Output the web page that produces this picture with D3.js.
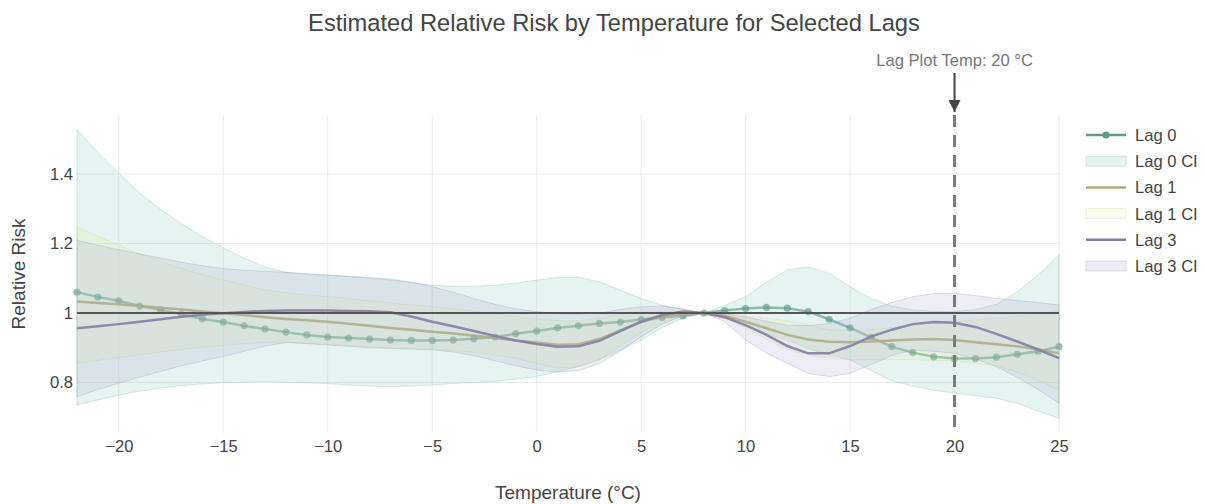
<!DOCTYPE html>
<html>
<head>
<meta charset="utf-8">
<script src="https://cdn.jsdelivr.net/npm/d3@7"></script>
<style>
  body { margin: 0; background: #fff; font-family: "Liberation Sans", Arial, sans-serif; }
  .axis text { fill: #444; font-size: 16.6px; }
</style>
</head>
<body>
<div id="vis-container"></div>
<script>
// temperatures (°C)
var temps = [-22, -21, -20, -19, -18, -17, -16, -15, -14, -13, -12, -11, -10, -9, -8, -7, -6, -5, -4, -3, -2, -1,
  0, 1, 2, 3, 4, 5, 6, 7, 8, 9, 10, 11, 12, 13, 14, 15, 16, 17, 18, 19, 20, 21, 22, 23, 24, 25];

var lag0 = [1.060, 1.046, 1.035, 1.020, 1.009, 0.997, 0.983, 0.974, 0.963, 0.954, 0.945, 0.937, 0.931, 0.928, 0.925, 0.922,
  0.921, 0.921, 0.922, 0.926, 0.931, 0.940, 0.948, 0.957, 0.963, 0.970, 0.974, 0.981, 0.987, 0.992, 1.000, 1.007,
  1.013, 1.016, 1.014, 1.004, 0.982, 0.957, 0.930, 0.903, 0.886, 0.874, 0.869, 0.869, 0.873, 0.881, 0.890, 0.903];
var lag0Lo = [0.735, 0.750, 0.764, 0.775, 0.784, 0.791, 0.796, 0.799, 0.801, 0.802, 0.801, 0.799, 0.797, 0.793, 0.790, 0.788,
  0.790, 0.793, 0.797, 0.800, 0.803, 0.810, 0.817, 0.831, 0.846, 0.866, 0.893, 0.922, 0.958, 0.985, 1.000, 0.985,
  0.961, 0.940, 0.922, 0.898, 0.880, 0.865, 0.835, 0.805, 0.790, 0.778, 0.769, 0.762, 0.755, 0.740, 0.718, 0.697];
var lag0Hi = [1.527, 1.462, 1.402, 1.345, 1.298, 1.257, 1.220, 1.187, 1.158, 1.133, 1.117, 1.111, 1.109, 1.105, 1.100, 1.095,
  1.088, 1.080, 1.077, 1.077, 1.080, 1.086, 1.095, 1.102, 1.103, 1.090, 1.066, 1.042, 1.022, 1.010, 1.000, 1.022,
  1.047, 1.088, 1.124, 1.133, 1.114, 1.076, 1.042, 1.020, 1.009, 1.005, 1.004, 1.010, 1.025, 1.060, 1.110, 1.167];

var lag1 = [1.033, 1.029, 1.025, 1.020, 1.015, 1.010, 1.004, 0.999, 0.994, 0.988, 0.983, 0.979, 0.975, 0.969, 0.963, 0.957,
  0.952, 0.946, 0.941, 0.935, 0.928, 0.921, 0.915, 0.909, 0.910, 0.925, 0.950, 0.974, 0.990, 0.998, 1.000, 0.992,
  0.975, 0.956, 0.937, 0.924, 0.917, 0.916, 0.918, 0.921, 0.924, 0.925, 0.922, 0.916, 0.910, 0.904, 0.895, 0.884];
var lag1Lo = [0.856, 0.864, 0.872, 0.880, 0.888, 0.895, 0.902, 0.907, 0.912, 0.915, 0.916, 0.913, 0.910, 0.906, 0.903, 0.900,
  0.898, 0.896, 0.892, 0.887, 0.880, 0.870, 0.855, 0.842, 0.845, 0.865, 0.905, 0.945, 0.975, 0.992, 1.000, 0.985,
  0.958, 0.925, 0.895, 0.880, 0.870, 0.866, 0.866, 0.866, 0.866, 0.864, 0.862, 0.856, 0.848, 0.830, 0.806, 0.778];
var lag1Hi = [1.247, 1.220, 1.195, 1.170, 1.148, 1.128, 1.110, 1.095, 1.080, 1.066, 1.058, 1.052, 1.047, 1.041, 1.035, 1.029,
  1.023, 1.018, 1.012, 1.005, 0.998, 0.990, 0.982, 0.978, 0.978, 0.985, 0.995, 1.003, 1.006, 1.004, 1.000, 0.998,
  0.992, 0.985, 0.978, 0.965, 0.952, 0.950, 0.952, 0.958, 0.965, 0.972, 0.976, 0.980, 0.985, 0.990, 0.998, 1.008];

var lag3 = [0.956, 0.962, 0.968, 0.975, 0.982, 0.989, 0.995, 0.999, 1.003, 1.006, 1.007, 1.007, 1.007, 1.006, 1.005, 1.002,
  0.990, 0.975, 0.962, 0.948, 0.934, 0.921, 0.911, 0.903, 0.904, 0.920, 0.948, 0.975, 0.994, 1.004, 1.000, 0.988,
  0.965, 0.937, 0.905, 0.884, 0.884, 0.905, 0.932, 0.952, 0.968, 0.974, 0.972, 0.960, 0.940, 0.918, 0.895, 0.870];
var lag3Lo = [0.759, 0.780, 0.798, 0.815, 0.832, 0.848, 0.862, 0.875, 0.890, 0.905, 0.915, 0.912, 0.908, 0.904, 0.900, 0.898,
  0.896, 0.894, 0.888, 0.877, 0.863, 0.848, 0.836, 0.830, 0.834, 0.855, 0.890, 0.932, 0.968, 0.992, 1.000, 0.975,
  0.922, 0.885, 0.855, 0.826, 0.817, 0.826, 0.852, 0.878, 0.893, 0.890, 0.884, 0.868, 0.846, 0.815, 0.780, 0.740];
var lag3Hi = [1.210, 1.195, 1.182, 1.170, 1.158, 1.146, 1.136, 1.128, 1.123, 1.120, 1.117, 1.113, 1.109, 1.106, 1.102, 1.098,
  1.088, 1.076, 1.060, 1.042, 1.025, 1.012, 1.004, 0.998, 0.997, 1.000, 1.010, 1.018, 1.020, 1.012, 1.000, 0.998,
  0.989, 0.976, 0.965, 0.964, 0.970, 0.985, 1.010, 1.030, 1.047, 1.056, 1.057, 1.050, 1.042, 1.036, 1.030, 1.023];

var xTicks = [-20, -15, -10, -5, 0, 5, 10, 15, 20, 25];
var yTicks = [0.8, 1, 1.2, 1.4];
var lagTemp = 20;

var margin = { top: 115, right: 146, bottom: 71, left: 77 },
    width  = 1205 - margin.left - margin.right,
    height = 504 - margin.top - margin.bottom;

var xScale = d3.scaleLinear().domain([-22, 25]).range([0, width]);
var yScale = d3.scaleLinear().domain([0.6547, 1.5698]).range([height, 0]);

var svg = d3.select("#vis-container")
  .append("svg")
    .attr("width", 1205)
    .attr("height", 504);

var canvas = svg.append("g")
  .attr("transform", "translate(" + margin.left + "," + margin.top + ")");

// grid
canvas.append("g").selectAll("line")
  .data(xTicks).enter().append("line")
  .attr("x1", function(d) { return xScale(d); })
  .attr("x2", function(d) { return xScale(d); })
  .attr("y1", 0).attr("y2", height)
  .style("stroke", "#ebebeb").style("stroke-width", 1);

canvas.append("g").selectAll("line")
  .data(yTicks).enter().append("line")
  .attr("x1", 0).attr("x2", width)
  .attr("y1", function(d) { return yScale(d); })
  .attr("y2", function(d) { return yScale(d); })
  .style("stroke", "#ebebeb").style("stroke-width", 1);

// axes
var xAxis = d3.axisBottom(xScale)
  .tickValues(xTicks)
  .tickSize(0)
  .tickPadding(7)
  .tickFormat(function(d) { return d < 0 ? "\u2212" + Math.abs(d) : d; });

canvas.append("g")
  .attr("class", "x axis")
  .attr("transform", "translate(0," + height + ")")
  .call(xAxis)
  .call(function(g) { g.select(".domain").remove(); });

var yAxis = d3.axisLeft(yScale)
  .tickValues(yTicks)
  .tickSize(0)
  .tickPadding(4)
  .tickFormat(function(d) { return String(d); });

canvas.append("g")
  .attr("class", "y axis")
  .call(yAxis)
  .call(function(g) { g.select(".domain").remove(); });

var series = [
  { name: "Lag 0", mid: lag0, lo: lag0Lo, hi: lag0Hi, line: "#5b9c89", fill: "rgba(150,210,195,0.25)", edge: "rgba(120,190,170,0.3)", markers: true },
  { name: "Lag 1", mid: lag1, lo: lag1Lo, hi: lag1Hi, line: "#b3ad78", fill: "rgba(225,238,160,0.2)", edge: "rgba(200,215,140,0.3)", markers: false },
  { name: "Lag 3", mid: lag3, lo: lag3Lo, hi: lag3Hi, line: "#857ea6", fill: "rgba(170,165,210,0.2)", edge: "rgba(150,145,195,0.3)", markers: false }
];

var area = d3.area()
  .x(function(d, i) { return xScale(temps[i]); })
  .y0(function(d) { return yScale(d[0]); })
  .y1(function(d) { return yScale(d[1]); });

var line = d3.line()
  .x(function(d, i) { return xScale(temps[i]); })
  .y(function(d) { return yScale(d); });

series.forEach(function(s) {
  var band = s.lo.map(function(v, i) { return [v, s.hi[i]]; });

  canvas.append("path")
    .datum(band)
    .attr("d", area)
    .style("fill", s.fill)
    .style("stroke", s.edge)
    .style("stroke-width", 1);

  canvas.append("path")
    .datum(s.mid)
    .attr("d", line)
    .style("fill", "none")
    .style("stroke", s.line)
    .style("stroke-width", 2.5)
    .style("opacity", s.markers ? 0.65 : 0.9);

  if (s.markers) {
    canvas.append("g").selectAll("circle")
      .data(s.mid).enter().append("circle")
      .attr("cx", function(d, i) { return xScale(temps[i]); })
      .attr("cy", function(d) { return yScale(d); })
      .attr("r", 3.6)
      .style("fill", s.line)
      .style("opacity", 0.65);
  }
});

// reference line at RR = 1
canvas.append("line")
  .attr("x1", 0).attr("x2", width)
  .attr("y1", yScale(1)).attr("y2", yScale(1))
  .style("stroke", "#555")
  .style("stroke-width", 2);

// lag plot temperature marker
canvas.append("line")
  .attr("x1", xScale(lagTemp)).attr("x2", xScale(lagTemp))
  .attr("y1", 0).attr("y2", height)
  .style("stroke", "#7a7a7a")
  .style("stroke-width", 3)
  .style("stroke-dasharray", "12,8");

svg.append("defs").append("marker")
  .attr("id", "arrowhead")
  .attr("viewBox", "0 0 10 10")
  .attr("refX", 10).attr("refY", 5)
  .attr("markerWidth", 6).attr("markerHeight", 6)
  .attr("markerUnits", "strokeWidth")
  .attr("orient", "auto")
  .append("path")
  .attr("d", "M0,0 L10,5 L0,10 z")
  .style("fill", "#444");

canvas.append("line")
  .attr("x1", xScale(lagTemp)).attr("x2", xScale(lagTemp))
  .attr("y1", -42).attr("y2", -3)
  .style("stroke", "#444")
  .style("stroke-width", 2)
  .attr("marker-end", "url(#arrowhead)");

canvas.append("text")
  .attr("x", xScale(lagTemp))
  .attr("y", -49)
  .style("text-anchor", "middle")
  .style("font-size", "16.6px")
  .style("fill", "#777")
  .text("Lag Plot Temp: " + lagTemp + " \u00B0C");

// titles
svg.append("text")
  .attr("x", 614).attr("y", 31)
  .style("text-anchor", "middle")
  .style("font-size", "23.7px")
  .style("fill", "#444")
  .text("Estimated Relative Risk by Temperature for Selected Lags");

svg.append("text")
  .attr("x", margin.left + width / 2).attr("y", 499)
  .style("text-anchor", "middle")
  .style("font-size", "19px")
  .style("fill", "#444")
  .text("Temperature (\u00B0C)");

svg.append("text")
  .attr("transform", "translate(25," + (margin.top + height / 2) + ") rotate(-90)")
  .style("text-anchor", "middle")
  .style("font-size", "19px")
  .style("fill", "#444")
  .text("Relative Risk");

// legend
var legendItems = [];
series.forEach(function(s) {
  legendItems.push({ label: s.name, s: s, kind: "line" });
  legendItems.push({ label: s.name + " CI", s: s, kind: "fill" });
});

var legend = svg.append("g").attr("transform", "translate(1086,135)");
legendItems.forEach(function(item, i) {
  var g = legend.append("g").attr("transform", "translate(0," + (i * 26.2) + ")");
  if (item.kind === "line") {
    g.append("line")
      .attr("x1", 0).attr("x2", 40).attr("y1", 0).attr("y2", 0)
      .style("stroke", item.s.line).style("stroke-width", 2.5);
    if (item.s.markers) {
      g.append("circle").attr("cx", 20).attr("cy", 0).attr("r", 3.6).style("fill", item.s.line);
    }
  } else {
    g.append("rect")
      .attr("x", 0).attr("y", -5).attr("width", 40).attr("height", 10)
      .style("fill", item.s.fill)
      .style("stroke", item.s.edge);
  }
  g.append("text")
    .attr("x", 49).attr("y", 6)
    .style("font-size", "16.6px")
    .style("fill", "#444")
    .text(item.label);
});
</script>
</body>
</html>
